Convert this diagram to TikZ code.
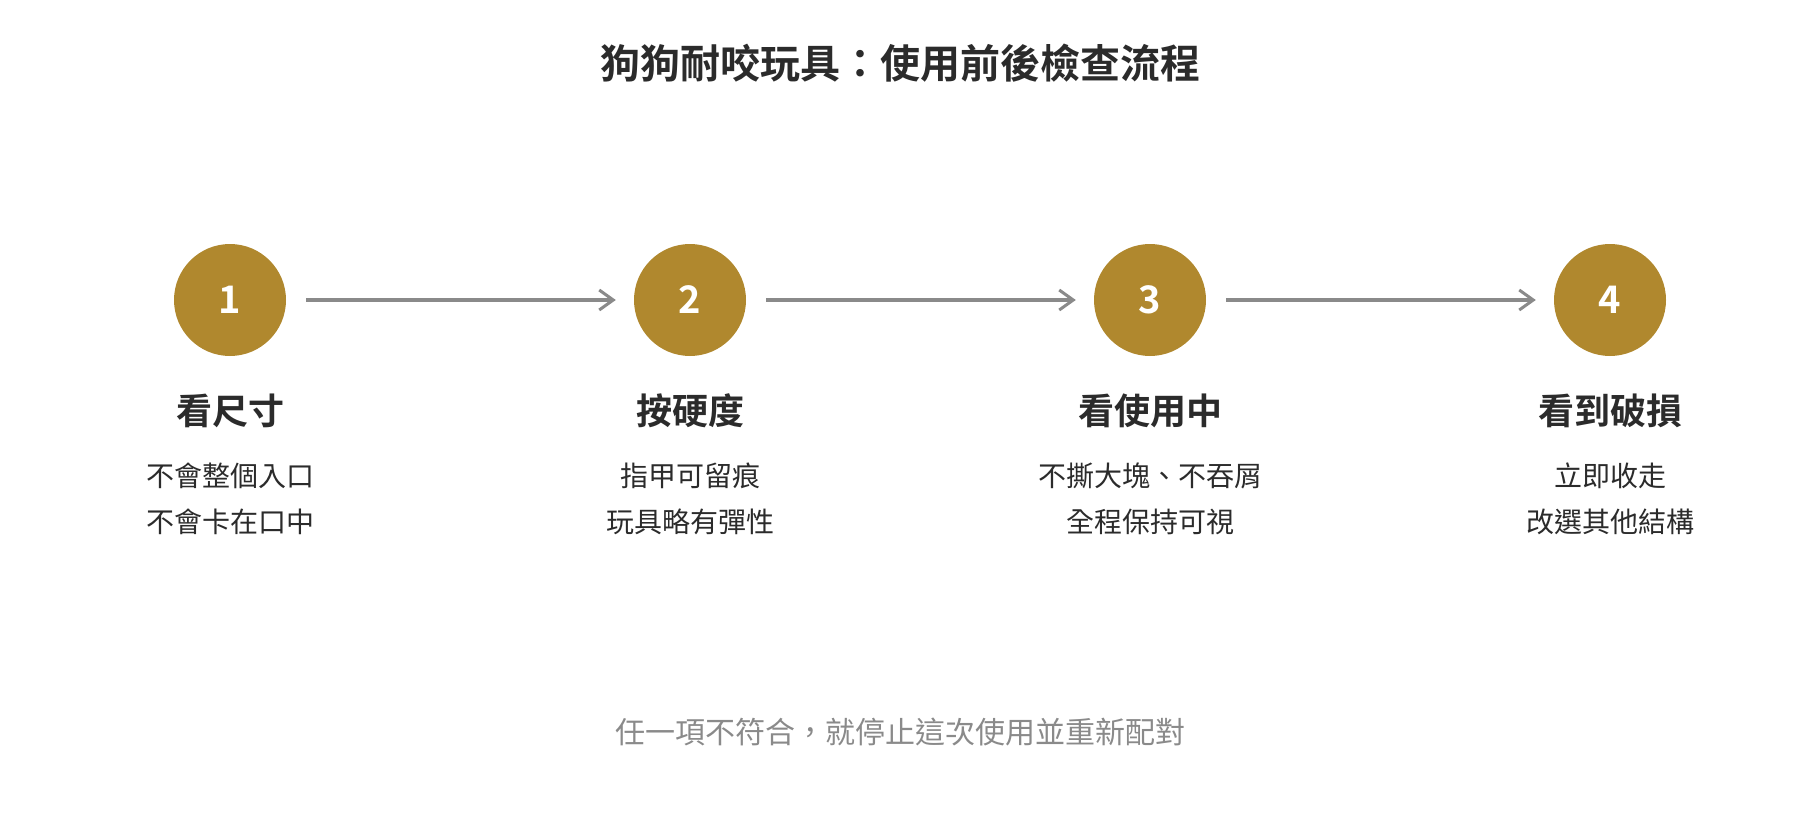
\documentclass[tikz,border=0pt]{standalone}
\usepackage{fontspec}
\setmainfont{Noto Sans CJK TC}[BoldFont={Noto Sans CJK TC Bold}]
\usepackage{tikz}
\usetikzlibrary{arrows.meta}
\usetikzlibrary{calc,positioning}

\definecolor{stepgold}{HTML}{B0882E}
\definecolor{flowgray}{HTML}{8A8A8A}
\definecolor{inkdark}{HTML}{2B2B2B}
\definecolor{notegray}{HTML}{8A8A8A}

\begin{document}
\begin{tikzpicture}[
		x=1pt, y=-1pt,
		stepdot/.style = {circle, fill=stepgold, minimum size=112pt, inner sep=0pt, text=white, font=\fontsize{38}{42}\selectfont\bfseries},
		head/.style = {text=inkdark, font=\fontsize{36}{40}\selectfont\bfseries, inner sep=0pt},
		txt/.style = {text=inkdark, align=center, font=\fontsize{28}{46}\selectfont, inner sep=0pt},
		flow/.style = {->, >={Straight Barb[length=14pt, width=20pt, line width=3pt]}, draw=flowgray, line width=4pt, shorten <=20pt, shorten >=18pt},
		node distance=460pt,
	]
	\useasboundingbox (0,0) rectangle (1800,840);

	\node[text=inkdark, font=\fontsize{40}{46}\selectfont\bfseries] (title) at (900,63) {狗狗耐咬玩具：使用前後檢查流程};

	\node[stepdot] (c1) at (230,300) {1};
	\node[stepdot, right of=c1] (c2) {2};
	\node[stepdot, right of=c2] (c3) {3};
	\node[stepdot, right of=c3] (c4) {4};

	\draw[flow] (c1) -- (c2);
	\draw[flow] (c2) -- (c3);
	\draw[flow] (c3) -- (c4);

	\begin{scope}[node distance=111pt]
		\node[head, below of=c1] (h1) {看尺寸};
		\node[head, below of=c2] (h2) {按硬度};
		\node[head, below of=c3] (h3) {看使用中};
		\node[head, below of=c4] (h4) {看到破損};
	\end{scope}

	\begin{scope}[node distance=88pt]
		\node[txt, below of=h1] (t1) {不會整個入口\\不會卡在口中};
		\node[txt, below of=h2] (t2) {指甲可留痕\\玩具略有彈性};
		\node[txt, below of=h3] (t3) {不撕大塊、不吞屑\\全程保持可視};
		\node[txt, below of=h4] (t4) {立即收走\\改選其他結構};
	\end{scope}

	\node[text=notegray, font=\fontsize{30}{34}\selectfont] (note) at (900,732) {任一項不符合，就停止這次使用並重新配對};

\end{tikzpicture}
\end{document}
